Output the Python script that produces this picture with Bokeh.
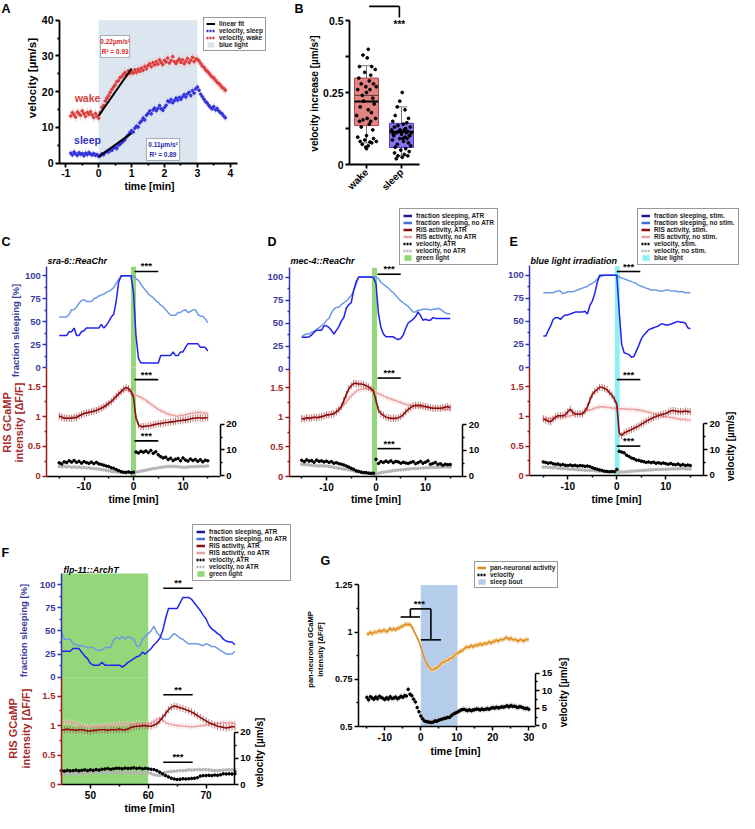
import numpy as np
from bokeh.plotting import figure
from bokeh.models import (Range1d, LinearAxis, FixedTicker, Label, Legend, LegendItem,
                          BoxAnnotation, CustomJSTickFormatter)
from bokeh.embed import file_html
from bokeh.resources import INLINE

FONT = "Liberation Sans"

# ======================= DATA =======================
# ---- Panel A: velocity around blue light (min) ----
A_T = np.round(np.arange(-0.85, 3.851, 0.05), 2)
A_WAKE = [13.2, 14.1, 13.6, 12.9, 14.3, 13.8, 13.4, 14.6, 13.9, 13.1, 14.2, 13.7, 14.4, 13.5, 12.8, 13.9, 13.2, 12.6,
          14.2, 15.6, 16.1, 17.4, 18.2, 18.9, 19.8, 20.6, 21.3, 21.9, 22.8, 23.1, 23.9, 24.2, 24.8, 25.3, 24.6, 25.8, 25.1, 25.6,
          25.2, 26.1, 25.4, 26.3, 25.7, 26.6, 26.0, 27.1, 26.4, 27.3, 27.8, 27.0, 28.1, 27.5, 28.4, 27.7, 28.9, 28.2, 27.6, 28.8,
          28.3, 29.4, 28.0, 28.7, 29.8, 28.4, 27.9, 28.6, 29.1, 28.2, 28.9, 27.8, 28.5, 29.3, 28.1, 28.8, 29.6, 28.4, 29.2, 29.0,
          28.6, 27.9, 27.2, 26.8, 26.1, 25.7, 25.2, 24.6, 24.1, 23.8, 23.2, 22.6, 22.3, 21.8, 21.2, 20.9, 20.4]
A_SLEEP = [2.8, 2.3, 3.1, 2.6, 2.2, 2.9, 2.5, 2.7, 2.1, 2.8, 2.4, 3.0, 2.6, 2.3, 2.7, 2.2, 2.4, 1.9,
           2.1, 2.6, 2.4, 3.0, 3.3, 3.1, 3.8, 3.6, 4.2, 4.5, 4.1, 5.0, 5.3, 5.8, 6.2, 6.6, 7.4, 7.9, 8.6, 9.1,
           8.7, 9.8, 10.4, 10.1, 11.3, 11.8, 12.6, 12.1, 13.4, 13.9, 14.6, 13.8, 14.9, 15.4, 14.7, 15.3, 16.1, 15.2, 14.8, 15.6,
           16.2, 17.4, 17.1, 17.8, 16.9, 17.5, 18.2, 17.6, 18.4, 17.9, 18.6, 19.2, 18.5, 19.4, 19.8, 18.9, 20.3, 19.6, 20.8, 21.3,
           20.4, 19.3, 18.6, 17.9, 17.2, 16.8, 16.1, 15.6, 15.2, 15.8, 14.9, 15.3, 14.6, 14.1, 13.8, 13.2, 12.7]
A_ERR_WAKE = 1.3
A_ERR_SLEEP = 1.0
A_FIT_T = [0, 1]
A_FIT_WAKE = [13.3, 26.5]
A_FIT_SLEEP = [1.8, 8.4]
A_LIGHT = [0, 3]

# ---- Panel B: velocity increase ----
B_POS = [1, 2]
B_CATS = ["wake", "sleep"]
B_Q1 = [0.135, 0.059]
B_Q3 = [0.300, 0.143]
B_MED = [0.219, 0.114]
B_MEAN = [0.240, 0.110]
B_LO = [0.075, 0.030]
B_HI = [0.343, 0.200]
B_WAKE = [0.40, 0.38, 0.37, 0.34, 0.34, 0.33, 0.32, 0.31, 0.30, 0.29,
          0.28, 0.28, 0.27, 0.27, 0.26, 0.26, 0.25, 0.24, 0.23, 0.22,
          0.21, 0.20, 0.19, 0.18, 0.17, 0.16, 0.16, 0.155, 0.15, 0.15,
          0.14, 0.13, 0.12, 0.10, 0.095, 0.09, 0.085, 0.08, 0.08, 0.078,
          0.075, 0.07, 0.065, 0.06, 0.055]
B_WAKE_JIT = [0.05, -0.10, 0.02, -0.20, 0.15, 0.25, -0.05, 0.12, -0.22, 0.08,
              -0.15, 0.20, -0.02, 0.28, -0.25, 0.10, 0.00, -0.12, 0.18, -0.08,
              0.22, -0.18, 0.05, 0.14, -0.28, 0.02, 0.26, -0.10, -0.20, 0.12,
              0.08, -0.15, 0.18, 0.00, -0.25, 0.20, -0.05, 0.28, -0.18, 0.10,
              0.15, -0.12, 0.05, -0.02, 0.00]
B_SLEEP = [0.25, 0.22, 0.20, 0.19, 0.17, 0.16, 0.15, 0.145, 0.14, 0.135,
           0.13, 0.13, 0.125, 0.12, 0.12, 0.115, 0.115, 0.11, 0.11, 0.105,
           0.10, 0.10, 0.095, 0.09, 0.09, 0.085, 0.08, 0.075, 0.07, 0.065,
           0.06, 0.055, 0.05, 0.045, 0.04, 0.035, 0.03, 0.03, 0.025, 0.02,
           0.12, 0.11, 0.105, 0.10, 0.09]
B_SLEEP_JIT = [0.02, -0.05, -0.12, 0.10, -0.18, 0.20, -0.25, 0.15, 0.05, -0.10,
               0.25, -0.20, 0.12, -0.28, 0.08, 0.18, -0.08, 0.28, -0.15, 0.00,
               0.22, -0.22, 0.10, -0.05, 0.16, -0.26, 0.06, 0.20, -0.12, 0.26,
               -0.18, 0.12, -0.02, 0.22, -0.20, 0.08, -0.10, 0.18, 0.02, -0.15,
               -0.04, 0.14, -0.24, 0.24, 0.04]

# ---- Panels C, D, E (time -15..15 min, 0.5 min steps) ----
T_CDE = np.arange(-15, 15.01, 0.5)
C_FRAC_ATR = [35, 35, 35, 35, 39, 39, 43, 35, 35, 39, 40, 43, 43, 43, 43, 43, 43, 47, 43, 46,
              50, 55, 58, 72, 93, 100, 100, 100, 100, 100, 82, 35, 10, 5, 5, 5, 5, 5, 5, 5,
              5, 13, 13, 13, 13, 13, 17, 13, 13, 17, 17, 22, 26, 26, 26, 26, 26, 22, 22, 22, 18]
C_FRAC_NO = [55, 55, 55, 55, 58, 63, 63, 66, 70, 73, 74, 72, 72, 72, 75, 76, 78, 79, 80, 82,
             83, 85, 87, 92, 96, 99, 100, 100, 100, 100, 100, 97, 95, 91, 87, 84, 80, 78, 76, 73,
             71, 68, 66, 63, 60, 57, 57, 57, 60, 60, 62, 63, 60, 61, 63, 63, 58, 56, 56, 53, 49]
C_RIS_ATR = [1.01, 0.99, 0.97, 0.97, 0.97, 0.97, 0.98, 0.98, 1.01, 1.03, 1.05, 1.06, 1.07, 1.08, 1.09, 1.10, 1.12, 1.14, 1.16, 1.19,
             1.22, 1.25, 1.29, 1.34, 1.38, 1.42, 1.46, 1.49, 1.47, 1.42, 1.32, 0.98, 0.86, 0.83, 0.83, 0.84, 0.84, 0.85, 0.86, 0.87,
             0.88, 0.88, 0.89, 0.90, 0.90, 0.91, 0.91, 0.92, 0.93, 0.93, 0.94, 0.94, 0.95, 0.96, 0.97, 0.97, 0.98, 0.98, 0.97, 0.98, 0.98]
C_RIS_NO = [1.00, 0.99, 0.98, 0.98, 0.98, 0.99, 1.00, 1.01, 1.02, 1.04, 1.05, 1.06, 1.07, 1.08, 1.10, 1.11, 1.13, 1.15, 1.17, 1.20,
            1.23, 1.26, 1.30, 1.34, 1.38, 1.41, 1.44, 1.45, 1.44, 1.41, 1.38, 1.36, 1.34, 1.32, 1.30, 1.27, 1.24, 1.21, 1.18, 1.15,
            1.12, 1.10, 1.08, 1.06, 1.04, 1.03, 1.02, 1.01, 1.01, 1.02, 1.02, 1.03, 1.04, 1.05, 1.06, 1.06, 1.07, 1.07, 1.06, 1.06, 1.05]
C_VEL_ATR = [5.0, 4.6, 5.4, 5.1, 5.8, 5.3, 5.9, 5.2, 5.6, 4.9, 5.5, 5.1, 4.8, 5.3, 4.7, 5.2, 4.6, 4.4, 4.1, 3.8,
             3.6, 3.1, 2.9, 2.4, 2.0, 1.6, 1.4, 1.3, 1.5, 1.2, 1.4, 9.2, 8.8, 9.5, 9.1, 9.6, 9.0, 9.8, 8.7, 9.3,
             8.1, 7.4, 6.9, 7.2, 6.3, 6.8, 5.9, 6.4, 6.7, 5.8, 6.9, 6.1, 5.7, 6.5, 5.9, 6.3, 5.6, 6.2, 5.4, 6.0, 5.8]
C_VEL_NO = [3.6, 3.5, 3.7, 3.4, 3.6, 3.3, 3.5, 3.2, 3.4, 3.1, 3.3, 3.0, 3.1, 2.9, 2.8, 2.7, 2.6, 2.4, 2.3, 2.1,
            1.9, 1.8, 1.6, 1.5, 1.4, 1.3, 1.2, 1.2, 1.3, 1.2, 1.3, 1.4, 1.6, 1.8, 2.0, 2.2, 2.4, 2.6, 2.8, 2.9,
            3.1, 3.2, 3.4, 3.5, 3.6, 3.6, 3.7, 3.6, 3.5, 3.4, 3.3, 3.3, 3.4, 3.5, 3.5, 3.6, 3.6, 3.7, 3.6, 3.7, 3.8]
C_LIGHT = [-0.5, 0.5]

D_FRAC_ATR = [34.5, 34.5, 34.5, 35, 37, 40, 42, 42, 42, 47, 47, 45, 42, 38, 42, 46, 52, 56, 66, 70,
              72, 86, 95, 100, 100, 100, 100, 100, 100, 99, 93, 60, 45, 38, 35, 35, 35, 35, 33, 32,
              33, 37, 44, 50, 52, 54, 57, 62, 58, 53, 54, 53, 53, 56, 55, 55, 55, 55, 55, 55, 55]
D_FRAC_NO = [35, 37, 38, 38, 40, 41, 43, 45, 47, 49, 53, 55, 61, 65, 67, 67, 70, 72, 74, 77,
             80, 85, 92, 100, 100, 100, 100, 100, 100, 100, 100, 98, 94, 92, 90, 88, 85, 83, 80, 77,
             74, 72, 70, 68, 65, 62, 62, 64, 64, 65, 65, 65, 64, 65, 65, 66, 65, 63, 61, 60, 60]
D_RIS_ATR = [0.98, 0.97, 0.99, 0.98, 0.99, 1.00, 0.99, 1.00, 1.01, 1.02, 1.04, 1.04, 1.05, 1.06, 1.09, 1.13, 1.18, 1.28, 1.38, 1.48,
             1.53, 1.57, 1.57, 1.56, 1.56, 1.55, 1.53, 1.51, 1.48, 1.44, 1.28, 1.12, 1.06, 1.03, 1.00, 0.99, 0.98, 0.98, 0.98, 0.99,
             1.01, 1.04, 1.09, 1.13, 1.16, 1.19, 1.20, 1.20, 1.20, 1.19, 1.18, 1.17, 1.16, 1.15, 1.15, 1.15, 1.15, 1.16, 1.17, 1.18, 1.16]
D_RIS_NO = [0.97, 0.98, 0.98, 0.99, 0.99, 1.00, 1.00, 1.01, 1.01, 1.02, 1.03, 1.04, 1.05, 1.07, 1.09, 1.12, 1.16, 1.21, 1.26, 1.31,
            1.36, 1.40, 1.44, 1.46, 1.47, 1.48, 1.48, 1.47, 1.46, 1.44, 1.42, 1.40, 1.38, 1.36, 1.34, 1.32, 1.31, 1.29, 1.28, 1.26,
            1.25, 1.23, 1.22, 1.21, 1.20, 1.19, 1.18, 1.18, 1.17, 1.17, 1.17, 1.16, 1.16, 1.15, 1.15, 1.15, 1.14, 1.14, 1.13, 1.13, 1.13]
D_VEL_ATR = [6.1, 5.6, 6.3, 5.8, 6.0, 5.4, 6.2, 5.7, 5.9, 5.5, 5.8, 5.3, 5.6, 5.0, 5.2, 4.8, 4.6, 4.3, 3.9, 3.5,
             3.0, 2.6, 2.0, 1.8, 1.5, 1.3, 1.3, 1.1, 1.0, 1.1, 6.5, 4.9, 5.6, 5.3, 5.8, 5.4, 5.9, 5.2, 5.7, 5.5,
             5.0, 5.4, 5.1, 4.9, 5.3, 5.6, 4.8, 5.2, 5.7, 5.0, 5.4, 5.9, 4.6, 4.9, 5.3, 4.5, 4.8, 4.2, 4.6, 4.4, 4.5]
D_VEL_NO = [4.6, 4.4, 4.5, 4.3, 4.2, 4.1, 4.0, 3.9, 4.0, 3.9, 3.9, 3.7, 3.6, 3.4, 3.2, 3.0, 2.9, 2.7, 2.6, 2.4,
            2.2, 2.0, 1.8, 1.6, 1.5, 1.4, 1.3, 1.2, 1.1, 1.0, 1.0, 1.1, 1.3, 1.5, 1.6, 1.8, 1.9, 2.1, 2.2, 2.3,
            2.4, 2.5, 2.6, 2.7, 2.8, 2.9, 2.9, 3.0, 3.1, 3.1, 3.2, 3.2, 3.3, 3.3, 3.3, 3.4, 3.4, 3.5, 3.5, 3.5, 3.5]
D_LIGHT = [-0.8, 0.2]

E_FRAC_ATR = [34, 34, 40, 45, 52, 54, 54, 52, 55, 57, 57, 58, 59, 60, 60, 60, 60, 61, 58, 67,
              72, 80, 92, 100, 100, 100, 100, 100, 100, 100, 100, 60, 25, 16, 15, 14, 11, 12, 18, 24,
              31, 35, 38, 41, 42, 43, 44, 45, 47, 47, 46, 46, 47, 48, 49, 50, 49, 49, 48, 43, 42]
E_FRAC_NO = [81, 81, 81, 81, 81, 82, 83, 83, 80, 81, 82, 82, 82, 83, 84, 85, 86, 87, 88, 90,
             91, 93, 96, 98, 99, 100, 100, 100, 100, 100, 100, 98, 97, 96, 95, 94, 93, 92, 91, 89,
             88, 87, 86, 85, 84, 84, 84, 83, 83, 83, 84, 84, 83, 83, 83, 82, 82, 82, 81, 81, 81]
E_RIS_ATR = [0.96, 0.94, 0.92, 0.91, 0.95, 0.99, 1.01, 1.01, 1.01, 1.03, 1.08, 1.12, 1.07, 1.04, 1.04, 1.04, 1.04, 1.09, 1.16, 1.27,
             1.37, 1.42, 1.45, 1.49, 1.49, 1.47, 1.45, 1.40, 1.36, 1.29, 1.20, 0.72, 0.68, 0.72, 0.74, 0.76, 0.78, 0.80, 0.82, 0.84,
             0.87, 0.89, 0.92, 0.94, 0.96, 0.98, 1.00, 1.01, 1.03, 1.04, 1.05, 1.07, 1.09, 1.10, 1.09, 1.08, 1.08, 1.08, 1.09, 1.08, 1.08]
E_RIS_NO = [0.96, 0.96, 0.97, 0.97, 0.98, 0.98, 0.99, 0.99, 1.00, 1.00, 1.00, 1.01, 1.02, 1.03, 1.04, 1.05, 1.06, 1.08, 1.10, 1.11,
            1.12, 1.14, 1.15, 1.16, 1.16, 1.16, 1.15, 1.15, 1.14, 1.14, 1.13, 1.13, 1.13, 1.13, 1.12, 1.12, 1.12, 1.12, 1.11, 1.11,
            1.10, 1.09, 1.08, 1.07, 1.06, 1.05, 1.04, 1.02, 1.01, 1.00, 0.99, 0.99, 0.98, 0.98, 0.97, 0.96, 0.95, 0.95, 0.95, 0.94, 0.94]
E_VEL_ATR = [5.2, 5.0, 4.7, 4.9, 4.5, 4.3, 4.4, 4.0, 4.2, 3.9, 3.8, 4.0, 3.7, 3.9, 3.6, 3.8, 3.7, 3.5, 3.6, 3.4,
             3.0, 2.6, 2.4, 2.1, 1.9, 1.6, 1.5, 1.4, 1.5, 1.4, 2.3, 9.3, 9.0, 8.7, 7.8, 7.3, 6.7, 6.4, 5.9, 5.8,
             5.5, 5.3, 5.0, 5.2, 4.9, 5.1, 4.7, 4.9, 4.6, 4.8, 4.5, 4.3, 4.6, 4.2, 4.1, 4.4, 3.9, 4.2, 3.8, 4.0, 3.8]
E_VEL_NO = [3.2, 3.3, 3.1, 3.0, 2.9, 3.0, 2.8, 2.7, 2.6, 2.6, 2.5, 2.4, 2.4, 2.3, 2.2, 2.2, 2.1, 2.0, 2.0, 1.9,
            1.9, 1.8, 1.7, 1.6, 1.6, 1.5, 1.5, 1.5, 1.4, 1.5, 1.5, 1.4, 1.3, 1.3, 1.4, 1.5, 1.6, 1.7, 1.7, 1.8,
            1.9, 1.9, 2.0, 2.1, 2.1, 2.2, 2.3, 2.3, 2.3, 2.4, 2.4, 2.4, 2.5, 2.5, 2.5, 2.5, 2.6, 2.6, 2.5, 2.5, 2.5]
E_LIGHT = [-0.4, 0.6]

# ---- Panel F (time 45..75 min) ----
T_F = np.arange(45, 75.01, 0.5)
F_FRAC_ATR = [28, 28, 28, 28, 31, 31, 31, 27, 23, 20, 15, 13, 13, 13, 16, 13, 13, 13, 13, 13,
              13, 11, 13, 16, 18, 20, 22, 23, 27, 25, 28, 31, 35, 38, 42, 50, 63, 74, 74, 74,
              74, 80, 86, 86, 86, 84, 80, 76, 72, 67, 63, 56, 52, 50, 47, 45, 41, 39, 38, 38, 35]
F_FRAC_NO = [49, 41, 41, 41, 36, 35, 34, 34, 33, 32, 32, 32, 29, 29, 29, 32, 32, 32, 40, 43,
             41, 44, 41, 44, 42, 41, 34, 33, 41, 44, 47, 50, 55, 48, 45, 41, 41, 41, 44, 47,
             45, 42, 41, 38, 36, 36, 36, 36, 35, 34, 36, 35, 33, 33, 31, 29, 27, 25, 25, 25, 28]
F_RIS_ATR = [0.93, 0.93, 0.94, 0.93, 0.93, 0.92, 0.93, 0.93, 0.92, 0.91, 0.91, 0.92, 0.92, 0.93, 0.93, 0.93, 0.92, 0.93, 0.93, 0.93,
             0.94, 0.93, 0.93, 0.94, 0.97, 0.98, 0.99, 0.99, 1.00, 1.00, 0.99, 0.99, 1.01, 1.03, 1.08, 1.14, 1.20, 1.27, 1.31, 1.33,
             1.32, 1.30, 1.29, 1.27, 1.25, 1.23, 1.20, 1.17, 1.14, 1.11, 1.08, 1.05, 1.03, 1.01, 0.99, 0.98, 0.97, 0.96, 0.97, 0.98, 0.98]
F_RIS_NO = [1.06, 1.07, 1.05, 1.06, 1.04, 1.03, 1.02, 1.01, 0.99, 0.98, 0.98, 0.99, 0.99, 1.00, 1.00, 1.00, 1.01, 1.01, 1.02, 1.02,
            1.03, 1.03, 1.03, 1.03, 1.02, 1.03, 1.04, 1.03, 1.03, 1.03, 1.03, 1.05, 1.08, 1.11, 1.12, 1.09, 1.05, 1.03, 1.02, 1.01,
            1.00, 1.00, 0.99, 0.99, 0.98, 0.98, 0.98, 0.99, 1.00, 1.00, 1.01, 1.02, 1.03, 1.03, 1.04, 1.05, 1.05, 1.04, 1.05, 1.05, 1.05]
F_VEL_ATR = [5.3, 5.1, 5.4, 5.2, 5.3, 5.5, 5.2, 5.4, 5.6, 5.3, 5.6, 5.4, 5.7, 5.5, 5.8, 5.9, 6.1, 5.8, 6.0, 6.2,
             6.2, 6.0, 6.3, 6.1, 6.2, 6.4, 6.1, 6.3, 6.0, 6.2, 6.0, 5.8, 5.7, 5.3, 4.7, 4.1, 3.4, 2.9, 2.4, 2.1,
             1.9, 2.0, 2.2, 2.1, 2.2, 2.3, 2.4, 2.6, 3.2, 3.4, 3.4, 3.5, 3.4, 3.6, 3.5, 3.7, 4.1, 4.0, 4.1, 4.0, 4.1]
F_VEL_NO = [4.1, 4.0, 4.2, 4.1, 4.0, 4.2, 4.1, 4.3, 4.2, 4.4, 4.7, 4.5, 4.6, 4.8, 4.6, 4.7, 4.7, 4.5, 4.6, 4.7,
            4.7, 4.6, 4.5, 4.4, 4.5, 4.6, 4.5, 4.4, 4.5, 4.5, 4.5, 4.2, 3.7, 3.5, 3.4, 3.6, 4.7, 4.9, 5.0, 5.1,
            5.2, 5.3, 5.3, 5.4, 5.6, 5.5, 5.6, 5.7, 5.6, 5.7, 5.7, 5.6, 5.4, 5.3, 5.3, 5.4, 5.5, 5.6, 5.7, 5.6, 5.7]
F_LIGHT = [45, 60]

# ---- Panel G (time -15..30 min) ----
T_G = np.arange(-15, 30.01, 0.5)
G_ACT = [0.99, 0.99, 1.00, 0.99, 1.00, 1.00, 1.00, 1.01, 1.00, 1.01,
         1.01, 1.00, 1.01, 1.02, 1.01, 1.02, 1.01, 1.02, 1.02, 1.03,
         1.03, 1.04, 1.04, 1.04, 1.04, 1.03, 1.01, 0.99, 0.97, 0.95,
         0.92, 0.89, 0.86, 0.84, 0.82, 0.81, 0.80, 0.80, 0.81, 0.81,
         0.82, 0.83, 0.84, 0.84, 0.85, 0.85, 0.86, 0.86, 0.87, 0.88,
         0.89, 0.89, 0.90, 0.90, 0.91, 0.92, 0.92, 0.92, 0.93, 0.92,
         0.93, 0.93, 0.93, 0.94, 0.93, 0.94, 0.94, 0.94, 0.95, 0.94,
         0.95, 0.95, 0.96, 0.95, 0.96, 0.96, 0.96, 0.97, 0.97, 0.96,
         0.97, 0.96, 0.96, 0.96, 0.95, 0.96, 0.96, 0.95, 0.96, 0.96, 0.96]
G_VEL = [8.1, 7.4, 8.3, 7.9, 7.6, 8.2, 7.7, 8.4, 8.1, 7.8,
         7.5, 8.0, 7.6, 8.3, 7.8, 7.9, 8.2, 7.7, 8.0, 8.4,
         8.1, 8.6, 8.5, 10.4, 9.0, 8.6, 7.6, 6.8, 5.2, 4.0,
         2.8, 2.0, 1.4, 1.2, 1.1, 1.0, 0.95, 1.1, 1.4, 1.3,
         1.6, 1.8, 1.9, 2.1, 2.2, 2.4, 2.4, 2.9, 3.3, 3.6,
         3.8, 4.1, 4.4, 4.6, 4.7, 4.5, 4.3, 4.6, 4.3, 4.5,
         4.6, 4.8, 4.7, 4.5, 4.8, 4.6, 4.7, 4.9, 4.7, 5.0,
         5.2, 5.0, 5.3, 5.1, 5.2, 5.4, 5.3, 5.5, 5.7, 5.4,
         5.8, 5.5, 5.6, 5.4, 5.2, 5.5, 5.3, 5.1, 4.9, 5.0, 4.7]
G_SLEEP = [0, 10.2]

RIS_ERR_ATR = 0.06
RIS_ERR_NO = 0.05

# ======================= STYLE =======================
BLUE_AX = "#3434b4"
BLUE_TXT = "#3a3a9c"
RED_AX = "#9c1a1a"
RED_TXT = "#a52a2a"
FRAC_ATR_COL = "#2222ee"
FRAC_ATR_LEG = "#1d1d8f"
FRAC_NO_COL = "#6c9be3"
FRAC_NO_LEG = "#3f72d2"
RIS_ATR_COL = "#8c0e0e"
RIS_ATR_ERR = "#b55050"
RIS_NO_COL = "#eaa3a3"
RIS_NO_ERR = "#f4cccc"
VEL_NO_COL = "#b5b5b5"
GREEN = "#94d67a"
CYAN = "#8ff0f4"
ORANGE = "#e08a1c"

# ======================= CANVAS =======================
# one plot frame covering the whole page area; page offset is 8 px
W, H = 739, 813
OX, OY = 8, 8


def xmap(v0, X0, s):
    """range so that value v0 sits at page pixel X0, s pixels per unit"""
    return Range1d(start=v0 + (OX - X0) / s, end=v0 + (OX + W - X0) / s)


def ymap(v0, Y0, s):
    return Range1d(start=v0 - (OY + H - Y0) / s, end=v0 + (Y0 - OY) / s)


p = figure(width=W, height=H, x_range=Range1d(0, W), y_range=Range1d(0, H),
           output_backend="svg", toolbar_location=None,
           x_axis_location=None, y_axis_location=None,
           min_border_left=0, min_border_right=0, min_border_top=0, min_border_bottom=0)
p.grid.visible = False
p.outline_line_color = None
p.border_fill_color = "white"
p.background_fill_color = "white"

p.extra_x_ranges = {
    "ax": xmap(0, 106.2, 32.9),
    "bx": xmap(1, 374, 35),
    "cx": xmap(0, 141, 4.95),
    "dx": xmap(0, 383.5, 4.95),
    "ex": xmap(0, 624.3, 4.9),
    "fx": xmap(45, 69, 5.78),
    "gx": xmap(0, 428.3, 3.6),
}
p.extra_y_ranges = {
    "ay": ymap(0, 170.7, 3.575),
    "by": ymap(0, 172, 288),
    "cf": ymap(0, 375, 0.917), "cr": ymap(0, 483.5, 59.47), "cv": ymap(0, 483.3, 2.585),
    "df": ymap(0, 376.5, 0.92), "dr": ymap(0, 484, 59.3), "dv": ymap(0, 483.5, 2.56),
    "ef": ymap(0, 375, 0.923), "er": ymap(0, 483.3, 59.4), "ev": ymap(0, 482.9, 2.59),
    "ff": ymap(0, 684.7, 0.927), "fr": ymap(0, 792.3, 59.2), "fv": ymap(0, 792, 2.615),
    "gy": ymap(0.5, 734, 188.8), "gv": ymap(0, 733.3, 3.507),
}


def fmt():
    return CustomJSTickFormatter(code="return String(Math.round(tick*1000)/1000);")


def add_axis(side, xn, yn, loc, major, minor, bounds, color="black", lcolor="black",
             size="9.5px", lw=1.5, minor_out=2, formatter=None):
    ax = LinearAxis(x_range_name=xn, y_range_name=yn, fixed_location=loc, bounds=bounds)
    ax.axis_line_color = color
    ax.axis_line_width = lw
    ax.major_tick_line_color = color
    ax.major_tick_line_width = lw
    ax.minor_tick_line_color = color
    ax.minor_tick_line_width = lw
    ax.major_tick_in = 0
    ax.major_tick_out = 4
    ax.minor_tick_in = 0
    ax.minor_tick_out = minor_out
    ax.major_label_text_font = FONT
    ax.major_label_text_font_style = "bold"
    ax.major_label_text_font_size = size
    ax.major_label_text_color = lcolor
    ax.major_label_standoff = 2
    ax.ticker = FixedTicker(ticks=major, minor_ticks=minor)
    ax.formatter = formatter if formatter is not None else fmt()
    p.add_layout(ax, side)
    return ax


def rtext(rx, ry, text, size="9px", color="black", style="bold",
          align="center", baseline="middle", angle=0.0):
    """text placed at page pixel (rx, ry)"""
    p.add_layout(Label(x=rx - OX, y=OY + H - ry, x_units="screen", y_units="screen",
                       text=text, text_font=FONT, text_font_size=size, text_font_style=style,
                       text_color=color, text_align=align, text_baseline=baseline, angle=angle))


def dtext(xn, yn, x, y, text, size="9px", color="black", baseline="bottom", style="bold"):
    p.add_layout(Label(x=x, y=y, text=text, text_font=FONT, text_font_size=size,
                       text_font_style=style, text_color=color, text_align="center",
                       text_baseline=baseline, x_range_name=xn, y_range_name=yn))


def sig(xn, yn, x0, x1, y, text):
    p.segment(x0=[x0], y0=[y], x1=[x1], y1=[y], line_color="black", line_width=1.6,
              x_range_name=xn, y_range_name=yn)
    dtext(xn, yn, (x0 + x1) / 2.0, y, text, size="9.5px")


def add_legend(items, rx_left, ry_bottom, spacing=0, padding=3):
    lg = Legend(items=[LegendItem(label=l, renderers=[r]) for l, r in items],
                location=(rx_left - OX, OY + H - ry_bottom),
                label_text_font=FONT, label_text_font_size="6.5px", label_text_font_style="bold",
                label_text_color="#222222", glyph_width=9, glyph_height=7, label_height=7,
                label_standoff=4, spacing=spacing, padding=padding, margin=0,
                border_line_color="#333333", border_line_width=1, background_fill_alpha=1.0)
    p.add_layout(lg)


def dummy(color, dash="solid"):
    # legend-only renderer (a single undefined point, never visible in the plot)
    return p.line(np.array([np.nan]), np.array([np.nan]), line_color=color, line_width=2.5, line_dash=dash)


# ======================= PANEL A =======================
KA = dict(x_range_name="ax", y_range_name="ay")
r_bl = p.quad(left=[A_LIGHT[0]], right=[A_LIGHT[1]], bottom=[0], top=[40],
              fill_color="#dce6f0", line_color=None, **KA)
aw = np.asarray(A_WAKE)
asl = np.asarray(A_SLEEP)
p.segment(x0=A_T, y0=aw - A_ERR_WAKE, x1=A_T, y1=aw + A_ERR_WAKE, line_color="#f2b9b9", line_width=0.8, **KA)
p.segment(x0=A_T, y0=asl - A_ERR_SLEEP, x1=A_T, y1=asl + A_ERR_SLEEP, line_color="#bdbdf2", line_width=0.8, **KA)
p.scatter(A_T, A_WAKE, size=2.6, color="#dd3b3b", **KA)
p.scatter(A_T, A_SLEEP, size=2.6, color="#3333dd", **KA)
r_fit = p.line(A_FIT_T, A_FIT_WAKE, line_color="black", line_width=2, **KA)
p.line(A_FIT_T, A_FIT_SLEEP, line_color="black", line_width=2, **KA)
add_axis("left", "ax", "ay", -1.19, [0, 10, 20, 30, 40], [5, 15, 25, 35], (0, 40), size="10.5px", lw=1.8)
add_axis("below", "ax", "ay", 0, [-1, 0, 1, 2, 3, 4], [-0.5, 0.5, 1.5, 2.5, 3.5], (-1.19, 4.22),
         size="10.5px", lw=1.8)
p.add_layout(BoxAnnotation(left=0.056, right=0.94, bottom=29.6, top=35.7, fill_color="white",
                           fill_alpha=1.0, line_color="black", line_width=1, **KA))
p.add_layout(BoxAnnotation(left=1.45, right=2.46, bottom=0.76, top=6.9, fill_color="white",
                           fill_alpha=1.0, line_color="black", line_width=1, **KA))
dtext("ax", "ay", 0.5, 34.0, "0.22µm/s²", size="6.5px", color="#d42a2a", baseline="middle")
dtext("ax", "ay", 0.5, 31.2, "R² = 0.93", size="6.5px", color="#d42a2a", baseline="middle")
dtext("ax", "ay", 1.955, 5.2, "0.11µm/s²", size="6.5px", color="#2a2ab0", baseline="middle")
dtext("ax", "ay", 1.955, 2.4, "R² = 0.89", size="6.5px", color="#2a2ab0", baseline="middle")
dtext("ax", "ay", -0.34, 18.1, "wake", size="10.5px", color="#d43f3f", baseline="middle")
dtext("ax", "ay", -0.34, 6.6, "sleep", size="10.5px", color="#3030c0", baseline="middle")
rtext(39, 84, "velocity  [µm/s]", size="11.5px", angle=np.pi / 2)
rtext(157, 193, "time [min]", size="10.5px")
rtext(9, 16, "A", size="12.5px", align="left")
add_legend([("linear fit", r_fit), ("velocity, sleep", dummy("#3232c8", "2 1")),
            ("velocity, wake", dummy("#d43a3a", "2 1")), ("blue light", r_bl)],
           211, 59, spacing=0, padding=2)

# ======================= PANEL B =======================
KB = dict(x_range_name="bx", y_range_name="by")
BW = 0.343
pos = np.asarray(B_POS, dtype=float)
p.segment(x0=pos, y0=B_Q3, x1=pos, y1=B_HI, line_color="#777777", line_width=1, **KB)
p.segment(x0=pos, y0=B_LO, x1=pos, y1=B_Q1, line_color="#777777", line_width=1, **KB)
p.segment(x0=pos - 0.17, y0=B_HI, x1=pos + 0.17, y1=B_HI, line_color="#777777", line_width=1, **KB)
p.segment(x0=pos - 0.17, y0=B_LO, x1=pos + 0.17, y1=B_LO, line_color="#777777", line_width=1, **KB)
p.quad(left=pos - BW, right=pos + BW, bottom=B_Q1, top=B_Q3,
       fill_color=["#e28484", "#8474f0"], line_color=["#b04545", "#4a3cc8"], line_width=1, **KB)
p.segment(x0=pos - BW, y0=B_MEAN, x1=pos + BW, y1=B_MEAN, line_color="#6b3030", line_width=1, **KB)
p.segment(x0=pos - BW, y0=B_MED, x1=pos + BW, y1=B_MED, line_color="black", line_width=2, **KB)
p.scatter(1 + np.asarray(B_WAKE_JIT), B_WAKE, size=2.8, color="black", **KB)
p.scatter(2 + np.asarray(B_SLEEP_JIT), B_SLEEP, size=2.8, color="black", **KB)
add_axis("left", "bx", "by", 0.514, [0, 0.25, 0.5], [0.125, 0.375], (0, 0.5), size="10.5px", lw=1.8, minor_out=4)
xb = add_axis("below", "bx", "by", 0, B_POS, [], (0.514, 2.514), size="10px", lw=1.8,
              formatter=CustomJSTickFormatter(args=dict(cats=B_CATS),
                                              code="return cats[Math.round(tick) - 1];"))
xb.major_label_orientation = np.pi / 4
p.segment(x0=[1.077, 1.94], y0=[0.549, 0.549], x1=[1.94, 1.94], y1=[0.549, 0.51],
          line_color="black", line_width=1.6, **KB)
dtext("bx", "by", 1.94, 0.506, "***", size="10px", baseline="top")
rtext(322, 101, "velocity increase [µm/s²]", size="10px", angle=np.pi / 2)
rtext(302, 16, "B", size="12.5px", align="left")


# ======================= STACKED PANELS C, D, E, F =======================
def stacked(c):
    xn, fn, rn, vn = c["names"]
    t = np.asarray(c["t"], dtype=float)
    KF = dict(x_range_name=xn, y_range_name=fn)
    KR = dict(x_range_name=xn, y_range_name=rn)
    KV = dict(x_range_name=xn, y_range_name=vn)
    r_light = p.quad(left=[c["light"][0]], right=[c["light"][1]], bottom=[0], top=[c["fb"]],
                     fill_color=c["light_col"], line_color=None, **KF)
    p.quad(left=[c["light"][0]], right=[c["light"][1]], bottom=[0], top=[c["rb"]],
           fill_color=c["light_col"], line_color=None, **KR)
    p.line(t, c["frac_no"], line_color=FRAC_NO_COL, line_width=1.5, **KF)
    p.line(t, c["frac_atr"], line_color=FRAC_ATR_COL, line_width=1.5, **KF)
    for arr, lc, ec, err in ((c["ris_no"], RIS_NO_COL, RIS_NO_ERR, RIS_ERR_NO),
                             (c["ris_atr"], RIS_ATR_COL, RIS_ATR_ERR, RIS_ERR_ATR)):
        a = np.asarray(arr, dtype=float)
        p.segment(x0=t, y0=a - err, x1=t, y1=a + err, line_color=ec, line_width=0.8, **KR)
        p.line(t, a, line_color=lc, line_width=1.6, **KR)
    p.scatter(t, c["vel_no"], size=2.6, color=VEL_NO_COL, **KV)
    p.scatter(t, c["vel_atr"], size=2.6, color="black", **KV)

    xl, xr = c["xlim"]
    add_axis("left", xn, fn, xl, [0, 25, 50, 75, 100], [12.5, 37.5, 62.5, 87.5], (0, c["fb"]),
             BLUE_AX, BLUE_TXT)
    add_axis("left", xn, rn, xl, [0, 0.5, 1, 1.5], [0.25, 0.75, 1.25], (0, c["rb"]), RED_AX, RED_TXT)
    add_axis("right", xn, vn, xr, [0, 10, 20], [5, 15], (0, 20))
    add_axis("below", xn, rn, 0, c["xticks"], c["xminor"], (xl, xr), size="10px")

    s = c["sig"]
    sig(xn, fn, s[0], s[1], s[2], s[5])
    sig(xn, rn, s[0], s[1], s[3], s[6])
    sig(xn, rn, s[0], s[1], s[4], s[7])

    if c.get("legend"):
        rends = [dummy(FRAC_ATR_LEG), dummy(FRAC_NO_LEG), dummy(RIS_ATR_COL), dummy(RIS_NO_COL),
                 dummy("black", "2 1"), dummy(VEL_NO_COL, "2 1"), r_light]
        add_legend(list(zip(c["legend"], rends)), c["legend_at"][0], c["legend_at"][1])


LEG_ATR = ["fraction sleeping, ATR", "fraction sleeping, no ATR", "RIS activity, ATR",
           "RIS activity, no ATR", "velocity, ATR", "velocity, no ATR", "green light"]
LEG_STIM = ["fraction sleeping, stim.", "fraction sleeping, no stim.", "RIS activity, stim.",
            "RIS activity, no stim.", "velocity, stim.", "velocity, no stim.", "blue light"]
CDE = dict(t=T_CDE, xticks=[-10, 0, 10], xminor=[-15, -5, 5, 15], fb=110)

stacked(dict(CDE, names=("cx", "cf", "cr", "cv"), xlim=(-17.5, 17.5), rb=1.824,
             frac_atr=C_FRAC_ATR, frac_no=C_FRAC_NO, ris_atr=C_RIS_ATR, ris_no=C_RIS_NO,
             vel_atr=C_VEL_ATR, vel_no=C_VEL_NO, light=C_LIGHT, light_col=GREEN,
             sig=(0.2, 5.0, 104.7, 1.62, 0.59, "***", "***", "***")))
stacked(dict(CDE, names=("dx", "df", "dr", "dv"), xlim=(-17.5, 17.5), rb=1.812,
             frac_atr=D_FRAC_ATR, frac_no=D_FRAC_NO, ris_atr=D_RIS_ATR, ris_no=D_RIS_NO,
             vel_atr=D_VEL_ATR, vel_no=D_VEL_NO, light=D_LIGHT, light_col=GREEN,
             sig=(0.3, 5.0, 103.0, 1.66, 0.47, "***", "***", "***"),
             legend=LEG_ATR, legend_at=(407, 273)))
stacked(dict(CDE, names=("ex", "ef", "er", "ev"), xlim=(-17.75, 17.7), rb=1.823,
             frac_atr=E_FRAC_ATR, frac_no=E_FRAC_NO, ris_atr=E_RIS_ATR, ris_no=E_RIS_NO,
             vel_atr=E_VEL_ATR, vel_no=E_VEL_NO, light=E_LIGHT, light_col=CYAN,
             sig=(0.0, 4.8, 104.0, 1.62, 0.50, "***", "***", "***"),
             legend=LEG_STIM, legend_at=(645, 273)))
stacked(dict(names=("fx", "ff", "fr", "fv"), t=T_F, xticks=[50, 60, 70], xminor=[55, 65],
             xlim=(45, 74.88), fb=112, rb=1.818,
             frac_atr=F_FRAC_ATR, frac_no=F_FRAC_NO, ris_atr=F_RIS_ATR, ris_no=F_RIS_NO,
             vel_atr=F_VEL_ATR, vel_no=F_VEL_NO, light=F_LIGHT, light_col=GREEN,
             sig=(62.6, 67.7, 96.0, 1.52, 0.38, "**", "**", "***"),
             legend=LEG_ATR, legend_at=(200, 589)))

# texts C
rtext(9, 249, "C", size="12.5px", align="left")
rtext(55, 268, "sra-6::ReaChr", size="9px", style="bold italic", align="left")
rtext(23, 338, "fraction sleeping [%]", size="9.5px", color=BLUE_TXT, angle=np.pi / 2)
rtext(14, 430, "RIS GCaMP", size="11px", color=RED_TXT, angle=np.pi / 2)
rtext(26, 430, "intensity [ΔF/F]", size="11px", color=RED_TXT, angle=np.pi / 2)
rtext(141, 506, "time [min]", size="10.5px")
# texts D
rtext(275, 249, "D", size="12.5px", align="left")
rtext(298, 268, "mec-4::ReaChr", size="9px", style="bold italic", align="left")
rtext(383.5, 506, "time [min]", size="10.5px")
# texts E
rtext(517, 249, "E", size="12.5px", align="left")
rtext(538, 268, "blue light irradiation", size="9px", style="bold italic", align="left")
rtext(738, 454, "velocity [µm/s]", size="10px", angle=np.pi / 2)
rtext(624, 506, "time [min]", size="10.5px")
# texts F
rtext(9, 560, "F", size="12.5px", align="left")
rtext(71, 577, "flp-11::ArchT", size="9px", style="bold italic", align="left")
rtext(31, 638, "fraction sleeping [%]", size="9.5px", color=BLUE_TXT, angle=np.pi / 2)
rtext(20, 736, "RIS GCaMP", size="11px", color=RED_TXT, angle=np.pi / 2)
rtext(33, 736, "intensity [ΔF/F]", size="11px", color=RED_TXT, angle=np.pi / 2)
rtext(267, 760, "velocity [µm/s]", size="10px", angle=np.pi / 2)
rtext(157, 815, "time [min]", size="10.5px")

# ======================= PANEL G =======================
KG = dict(x_range_name="gx", y_range_name="gy")
KGV = dict(x_range_name="gx", y_range_name="gv")
r_sb = p.quad(left=[G_SLEEP[0]], right=[G_SLEEP[1]], bottom=[0.5], top=[1.25],
              fill_color="#b4cdea", line_color=None, **KG)
ga = np.asarray(G_ACT)
gv = np.asarray(G_VEL)
p.varea(x=T_G, y1=ga - 0.013, y2=ga + 0.013, fill_color="#f4cf98", **KG)
p.line(T_G, G_ACT, line_color=ORANGE, line_width=1.4, **KG)
p.segment(x0=T_G, y0=gv - 0.9, x1=T_G, y1=gv + 0.9, line_color="#bbbbbb", line_width=0.8, **KGV)
p.scatter(T_G, G_VEL, size=2.6, color="black", **KGV)
add_axis("left", "gx", "gy", -17.3, [0.5, 0.75, 1, 1.25], [0.625, 0.875, 1.125], (0.5, 1.25), size="9px")
add_axis("right", "gx", "gv", 31.9, [0, 5, 10, 15], [2.5, 7.5, 12.5], (0, 15))
add_axis("below", "gx", "gy", 0.5, [-10, 0, 10, 20, 30], [-15, -5, 5, 15, 25], (-17.3, 31.9), size="10px")
p.segment(x0=[-5.6, -2.9, -2.9, 2.8, 0.0], y0=[1.08, 1.08, 1.123, 1.123, 0.959],
          x1=[-0.2, -2.9, 2.8, 2.8, 5.6], y1=[1.08, 1.123, 1.123, 0.959, 0.959],
          line_color="black", line_width=1.6, **KG)
dtext("gx", "gy", -0.4, 1.123, "***", size="9.5px")
add_legend([("pan-neuronal activity", dummy(ORANGE)), ("velocity", dummy("black", "2 1")),
            ("sleep bout", r_sb)], 482, 596, spacing=0, padding=2)
rtext(328, 568, "G", size="12.5px", align="left")
rtext(318, 657, "pan-neuronal GCaMP", size="7.5px", angle=np.pi / 2)
rtext(328, 657, "intensity [ΔF/F]", size="7.5px", angle=np.pi / 2)
rtext(571, 700, "velocity [µm/s]", size="10px", angle=np.pi / 2)
rtext(463, 758, "time [min]", size="10.5px")

open("out.html", "w").write(file_html(p, INLINE))
